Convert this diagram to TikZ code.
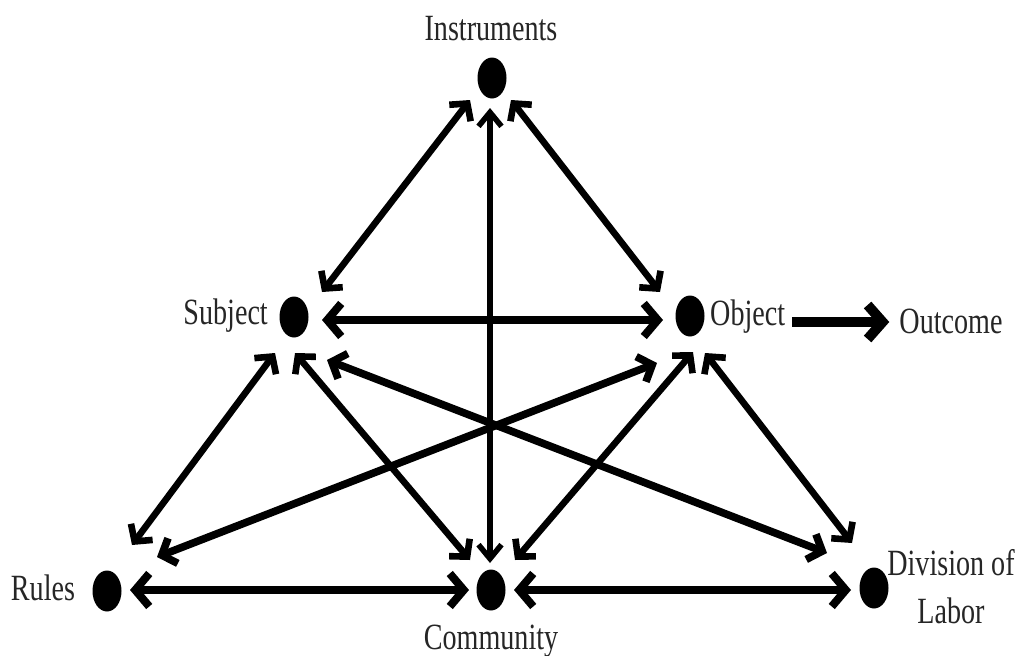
\documentclass[tikz,border=0pt]{standalone}
\usepackage{fontspec}
\setmainfont{Liberation Serif}
\newfontfamily\lblfont[FakeStretch=0.76]{Liberation Serif}
\usetikzlibrary{arrows.meta,shapes.geometric}

\begin{document}
\begin{tikzpicture}[x=1pt,y=-1pt,
  dot/.style={ellipse,fill=black,minimum width=29pt,minimum height=41pt,inner sep=0pt},
  lbl/.style={font=\lblfont\fontsize{37}{44}\selectfont,text=black!85,inner sep=0pt},
  htip/.tip={Straight Barb[length=14pt,width=33pt,sharp]},
  vtip/.tip={Straight Barb[length=14pt,width=23pt,sharp]},
  dtip/.tip={Straight Barb[length=12pt,width=27pt,sharp]},
  hlink/.style={line width=8pt,htip-htip},
  vlink/.style={line width=5.5pt,vtip-vtip},
  steeplink/.style={line width=6.6pt,dtip-dtip},
  flatlink/.style={line width=7.6pt,dtip-dtip},
  outlink/.style={line width=10pt,-{Straight Barb[length=15pt,width=34pt,sharp]}}
]
\path[use as bounding box,fill=white] (0,0) rectangle (1018,656);

% the six points of the activity system
\node[dot] (I) at (492,78) {};
\node[dot] (S) at (294,317) {};
\node[dot] (O) at (690,316) {};
\node[dot] (R) at (107,591) {};
\node[dot] (C) at (491,590) {};
\node[dot] (D) at (874,588) {};

% labels
\node[lbl,anchor=base] (instlbl) at (491,40) {Instruments};
\node[lbl,anchor=base east] (subjlbl) at (268,324) {Subject};
\node[lbl,anchor=base west] (objlbl) at (710,325) {Object};
\node[lbl,anchor=base] (outlbl) at (951,333) {Outcome};
\node[lbl,anchor=base] (rulelbl) at (43,600) {Rules};
\node[lbl,anchor=base] (commlbl) at (491,649) {Community};
\node[lbl,anchor=base] (divlbl) at (951,575) {Division of};
\node[lbl,anchor=base] (laborlbl) at (951,623) {Labor};

% two-way links
\draw[steeplink] ([shift={(-22,22)}]I.center) -- ([shift={(28,-25)}]S.center);
\draw[steeplink] ([shift={(19,22)}]I.center) -- ([shift={(-30,-24)}]O.center);
\draw[vlink] ([shift={(-2,30)}]I.center) -- ([shift={(-1,-27)}]C.center);
\draw[hlink] ([shift={(28,3)}]S.center) -- ([shift={(-27,4)}]O.center);
\draw[steeplink] ([shift={(-19,36)}]S.center) -- ([shift={(25,-46)}]R.center);
\draw[steeplink] ([shift={(1,36)}]S.center) -- ([shift={(-21,-30)}]C.center);
\draw[flatlink] ([shift={(33,43)}]S.center) -- ([shift={(-47,-35)}]D.center);
\draw[flatlink] ([shift={(-33,47)}]O.center) -- ([shift={(50,-34)}]R.center);
\draw[steeplink] ([shift={(3,36)}]O.center) -- ([shift={(24,-30)}]C.center);
\draw[steeplink] ([shift={(15,37)}]O.center) -- ([shift={(-22,-45)}]D.center);
\draw[hlink] ([shift={(23,-1)}]R.center) -- ([shift={(-22,0)}]C.center);
\draw[hlink] ([shift={(23,0)}]C.center) -- ([shift={(-23,2)}]D.center);

% object leads to outcome
\draw[outlink] ([shift={(7,-3)}]objlbl.base east) -- ([shift={(-10,-11)}]outlbl.base west);
\end{tikzpicture}
\end{document}
